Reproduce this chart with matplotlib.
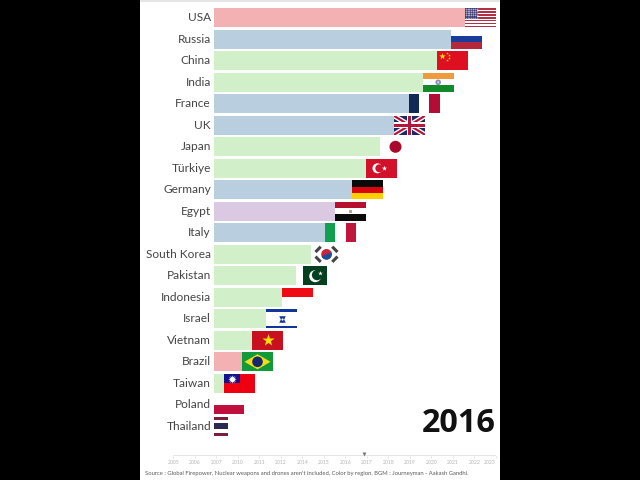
import numpy as np
import matplotlib
matplotlib.use("Agg")
import matplotlib.pyplot as plt
from matplotlib.patches import Rectangle, Ellipse, Polygon

countries = ["USA", "Russia", "China", "India", "France", "UK", "Japan", "Türkiye", "Germany", "Egypt",
             "Italy", "South Korea", "Pakistan", "Indonesia", "Israel", "Vietnam", "Brazil", "Taiwan",
             "Poland", "Thailand"]
values = [251, 237, 223, 208.7, 194.7, 180, 166, 152, 138, 121,
          111, 97, 82, 67.7, 52, 38, 28, 10, 0, 0]
regions = ["Americas", "Europe", "Asia", "Asia", "Europe", "Europe", "Asia", "Asia", "Europe", "Africa",
           "Europe", "Asia", "Asia", "Asia", "Asia", "Asia", "Americas", "Asia", "Europe", "Asia"]
years = ["2005", "2006", "2007", "2010", "2011", "2012", "2014", "2015", "2016", "2017",
         "2018", "2019", "2020", "2021", "2022", "2023"]
current_year = "2016"
source = ("Source : Global Firepower, Nuclear weapons and drones aren't included, "
          "Color by region, BGM : Journeyman - Aakash Gandhi.")

region_colors = {"Americas": "#f4b1b3", "Europe": "#b9cfe0", "Asia": "#d1f0c9", "Africa": "#dbc9e3"}

plt.rcParams["font.family"] = ["Lato", "DejaVu Sans"]
W, H = 640, 480
fig = plt.figure(figsize=(6.4, 4.8), dpi=100, facecolor="black")

bg = fig.add_axes([140 / W, 0, 360 / W, 1], facecolor="white")
bg.set_xticks([]); bg.set_yticks([])
for s in bg.spines.values():
    s.set_visible(False)
bg.add_patch(Rectangle((0, 1 - 1.5 / H), 1, 1.5 / H, transform=bg.transAxes, color="#e4e4e4", lw=0))

ROW = 21.5
TOP = 17.8
ax = fig.add_axes([214 / W, 35 / H, 286 / W, 445 / H], facecolor="none")
ax.set_xlim(0, 286)
ax.set_ylim((445 - TOP) / ROW, (0 - TOP) / ROW)
ranks = np.arange(len(countries))
ax.barh(ranks, values, height=19 / ROW, color=[region_colors[r] for r in regions], lw=0, zorder=1)
ax.set_yticks(ranks, countries)
ax.tick_params(axis="y", length=0, pad=2.2, labelsize=8.6, labelcolor="#454545")
for lab in ax.get_yticklabels():
    lab.set_transform(lab.get_transform() + matplotlib.transforms.ScaledTranslation(0, 1 / 100, fig.dpi_scale_trans))
ax.set_xticks([])
for s in ax.spines.values():
    s.set_visible(False)

FW, FH = 31, 19.0


class Flag:
    def __init__(self, x, rank, w=FW):
        self.x, self.r, self.w = x, rank, w

    def X(self, f):
        return self.x + np.asarray(f) * self.w

    def Y(self, f):
        return self.r + (np.asarray(f) - 0.5) * FH / ROW

    def rect(self, x0, y0, x1, y1, c, z=2):
        p = Rectangle((self.X(x0), self.Y(y0)), (x1 - x0) * self.w, (y1 - y0) * FH / ROW, fc=c, lw=0, zorder=z)
        ax.add_patch(p)
        return p

    def circle(self, cx, cy, rpx, c, z=3):
        ax.add_patch(Ellipse((self.X(cx), self.Y(cy)), 2 * rpx, 2 * rpx / ROW, fc=c, lw=0, zorder=z))

    def star(self, cx, cy, s, c, marker="*", z=4):
        ax.scatter([self.X(cx)], [self.Y(cy)], s=s, c=c, marker=marker, linewidths=0, zorder=z)

    def line(self, xs, ys, c, lw, clip=None, z=3):
        l, = ax.plot(self.X(xs), self.Y(ys), color=c, lw=lw, solid_capstyle="butt", zorder=z)
        if clip is not None:
            l.set_clip_path(clip)
        return l

    def poly(self, pts, c, z=3):
        pts = np.array(pts, float)
        ax.add_patch(Polygon(np.c_[self.X(pts[:, 0]), self.Y(pts[:, 1])], fc=c, lw=0, zorder=z))


def usa(f):
    f.rect(0, 0, 1, 1, "#ffffff")
    for i in range(0, 13, 2):
        f.rect(0, i / 13, 1, (i + 1) / 13, "#b23045")
    f.rect(0, 0, 0.4, 7 / 13, "#3d3f72", z=3)
    for i in range(7):
        for j in range(5):
            f.star((i + 0.5) / 7 * 0.4, (j + 0.5) / 5 * 7 / 13, 1.4, "#a8a8c8", marker="o")


def tricolor_h(f, a, b, c):
    f.rect(0, 0, 1, 1 / 3, a); f.rect(0, 1 / 3, 1, 2 / 3, b); f.rect(0, 2 / 3, 1, 1, c)


def tricolor_v(f, a, b, c):
    f.rect(0, 0, 1 / 3, 1, a); f.rect(1 / 3, 0, 2 / 3, 1, b); f.rect(2 / 3, 0, 1, 1, c)


def china(f):
    f.rect(0, 0, 1, 1, "#de0f20")
    f.star(0.17, 0.27, 24, "#ffde00")
    for cx, cy in [(0.33, 0.1), (0.39, 0.22), (0.39, 0.37), (0.33, 0.48)]:
        f.star(cx, cy, 4, "#ffde00")


def india(f):
    tricolor_h(f, "#f09a3e", "#ffffff", "#128a2a")
    f.circle(0.5, 0.5, 2.8, "#8d8fc0")
    f.circle(0.5, 0.5, 1.0, "#d9d9ea", z=4)


def uk(f):
    clip = f.rect(0, 0, 1, 1, "#1d2a66")
    for ys in ([0, 1], [1, 0]):
        f.line([0, 1], ys, "#ffffff", 3.6, clip)
        f.line([0, 1], ys, "#b5173a", 1.6, clip, z=4)
    f.rect(0.41, 0, 0.59, 1, "#ffffff", z=5); f.rect(0, 0.34, 1, 0.66, "#ffffff", z=5)
    f.rect(0.45, 0, 0.55, 1, "#b5173a", z=6); f.rect(0, 0.41, 1, 0.59, "#b5173a", z=6)


def japan(f):
    f.rect(0, 0, 1, 1, "#ffffff"); f.circle(0.5, 0.5, 6, "#a80a2c")


def turkey(f):
    f.rect(0, 0, 1, 1, "#d2102a")
    f.circle(0.37, 0.5, 5, "#ffffff"); f.circle(0.43, 0.5, 4, "#d2102a", z=4)
    f.star(0.58, 0.5, 16, "#ffffff", z=5)


def egypt(f):
    tricolor_h(f, "#b5102e", "#ffffff", "#0a0a0a")
    f.rect(0.45, 0.42, 0.55, 0.58, "#bba77c", z=3)


def korea(f):
    f.rect(0, 0, 1, 1, "#ffffff")
    f.circle(0.5, 0.5, 5.3, "#c8243c")
    t = np.linspace(-0.4, np.pi - 0.4, 40)
    pts = np.c_[0.5 + 5.3 * np.cos(t) / f.w, 0.5 + 5.3 * np.sin(t) / FH]
    f.poly(pts, "#1d4e9a", z=4)
    for cx, cy, d in [(0.23, 0.24, 1), (0.77, 0.24, -1), (0.23, 0.76, -1), (0.77, 0.76, 1)]:
        dx, dy = 0.085, 0.14 * d
        f.line([cx - dx, cx + dx], [cy + dy, cy - dy], "#444444", 2.2)


def pakistan(f):
    f.rect(0, 0, 1, 1, "#ffffff")
    f.rect(0.24, 0, 1, 1, "#04401f")
    f.circle(0.62, 0.52, 6, "#ffffff"); f.circle(0.68, 0.46, 5.2, "#04401f", z=4)
    f.star(0.76, 0.34, 12, "#ffffff", z=5)


def israel(f):
    f.rect(0, 0, 1, 1, "#ffffff")
    f.rect(0, 0.0, 1, 0.13, "#12359c"); f.rect(0, 0.87, 1, 1.0, "#12359c")
    f.star(0.5, 0.5, 22, "#12359c", marker="^")
    f.star(0.5, 0.5, 22, "#12359c", marker="v")
    f.star(0.5, 0.5, 2.5, "#ffffff", marker="o", z=5)


def vietnam(f):
    f.rect(0, 0, 1, 1, "#c8101e"); f.star(0.5, 0.5, 85, "#ffe000")


def brazil(f):
    f.rect(0, 0, 1, 1, "#109a3a")
    f.poly([(0.08, 0.5), (0.5, 0.1), (0.92, 0.5), (0.5, 0.9)], "#f6dc17")
    f.circle(0.5, 0.5, 5.3, "#16296e", z=4)


def taiwan(f):
    f.rect(0, 0, 1, 1, "#ee0011")
    f.rect(0, 0, 0.5, 0.5, "#12128e", z=3)
    f.star(0.25, 0.25, 38, "#ffffff", marker=(12, 1, 0))


def poland(f):
    f.rect(0, 0, 1, 0.5, "#ffffff"); f.rect(0, 0.5, 1, 1, "#bf0f3c")


def thailand(f):
    f.rect(0, 0, 1, 1 / 6, "#7c1f3c"); f.rect(0, 1 / 6, 1, 2 / 6, "#ffffff")
    f.rect(0, 2 / 6, 1, 4 / 6, "#2a2a54"); f.rect(0, 4 / 6, 1, 5 / 6, "#ffffff")
    f.rect(0, 5 / 6, 1, 1, "#7c1f3c")


painters = {
    "USA": usa,
    "Russia": lambda f: tricolor_h(f, "#ffffff", "#1a3c9c", "#b4283c"),
    "China": china,
    "India": india,
    "France": lambda f: tricolor_v(f, "#0e2a55", "#ffffff", "#b30d36"),
    "UK": uk,
    "Japan": japan,
    "Türkiye": turkey,
    "Germany": lambda f: tricolor_h(f, "#0a0a0a", "#d8070f", "#ffce00"),
    "Egypt": egypt,
    "Italy": lambda f: tricolor_v(f, "#12a050", "#ffffff", "#c1163c"),
    "South Korea": korea,
    "Pakistan": pakistan,
    "Indonesia": lambda f: (f.rect(0, 0, 1, 0.48, "#f00a14"), f.rect(0, 0.48, 1, 1, "#ffffff")),
    "Israel": israel,
    "Vietnam": vietnam,
    "Brazil": brazil,
    "Taiwan": taiwan,
    "Poland": poland,
    "Thailand": thailand,
}
for r, (name, v) in enumerate(zip(countries, values)):
    painters[name](Flag(v, r, w=14 if name == "Thailand" else (30 if name == "Poland" else FW)))

# year overlay
fig.text(495.5 / W, 1 - 432.2 / H, current_year, ha="right", va="baseline", fontsize=23.3,
         fontfamily="Open Sans", fontweight="bold", color="#111111")

# timeline
tl = fig.add_axes([173.3 / W, 1 - 456 / H, (495.8 - 173.3) / W, 1.5 / H], facecolor="#e6e6e6")
tl.set_xlim(0, len(years) - 1)
tl.set_yticks([])
tl.set_xticks(range(len(years)), years)
tl.tick_params(axis="x", length=1.5, width=0.4, color="#cccccc", pad=1.2, labelsize=3.7, labelcolor="#b4b4b4")
labels = tl.get_xticklabels()
labels[-1].set_ha("right")
for s in tl.spines.values():
    s.set_visible(False)
tl.scatter([years.index(current_year) + 0.87], [1.3], s=8, marker="v", c="#777777", linewidths=0,
           clip_on=False, transform=tl.get_xaxis_transform(), zorder=5)

fig.text(145 / W, 1 - 473.7 / H, source, ha="left", va="center", fontsize=4.22, color="#5a5a5a")

fig.savefig("out.png", dpi=100, facecolor="black")
